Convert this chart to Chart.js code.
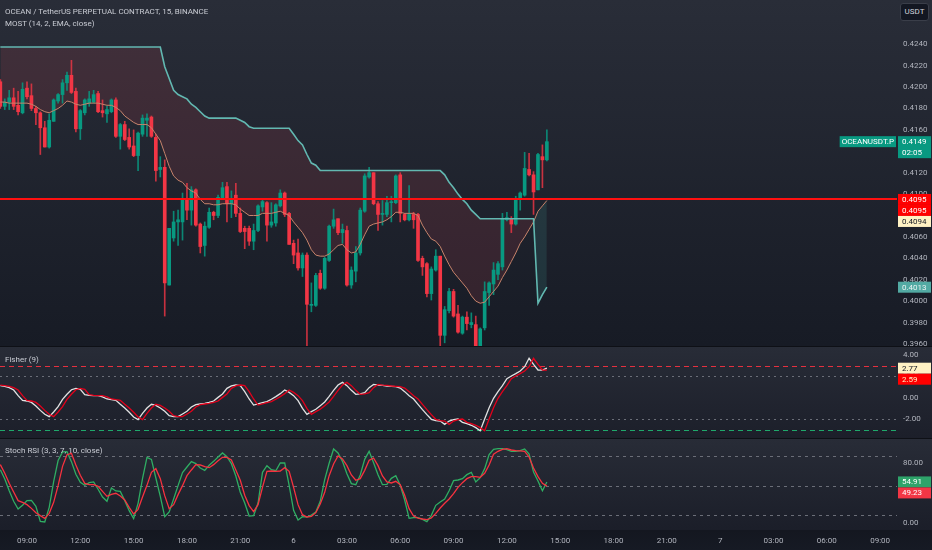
<!DOCTYPE html>
<html>
<head>
<meta charset="utf-8">
<script src="https://cdn.jsdelivr.net/npm/chart.js@4.4.1/dist/chart.umd.min.js"></script>
<style>
  body { margin: 0; width: 932px; height: 550px; overflow: hidden; position: relative; background: #0e1016; font-family: Roboto, sans-serif; }
  .pane { position: absolute; left: 0; width: 932px; }
  .pane canvas { display: block; }
  .ttl { position: absolute; left: 5px; color: #c8cbd3; font-size: 8px; line-height: 10px; white-space: nowrap; }
  #usdt { position: absolute; left: 900px; top: 3px; width: 27px; height: 16px; border: 1px solid #3a3e49; border-radius: 3px;
          background: #131722; color: #d1d4dc; font-size: 8px; line-height: 16px; text-align: center; }
</style>
</head>
<body>
<div class="pane" style="top:0;height:346px;background:linear-gradient(#292d38,#171b25)"><canvas id="cMain" width="932" height="346"></canvas></div>
<div class="pane" style="top:347px;height:91px;background:linear-gradient(#282c37,#1c1f2a)"><canvas id="cFisher" width="932" height="91"></canvas></div>
<div class="pane" style="top:439px;height:111px;background:linear-gradient(#282c37 0,#1b1e29 91px,#141720 91px,#161a24 111px)"><canvas id="cStoch" width="932" height="111"></canvas></div>
<div class="ttl" style="top:7px">OCEAN / TetherUS PERPETUAL CONTRACT, 15, BINANCE</div>
<div class="ttl" style="top:19px">MOST (14, 2, EMA, close)</div>
<div class="ttl" style="top:355px">Fisher (9)</div>
<div class="ttl" style="top:446px">Stoch RSI (3, 3, 7, 10, close)</div>
<div id="usdt">USDT</div>
<script>
// bar 0 = 09:00 on the 5th, one bar per 15 minutes
const FIRST_BAR = -6;
const BARS_PER_LABEL = 12;
const TIME_LABELS = ["09:00", "12:00", "15:00", "18:00", "21:00", "6", "03:00", "06:00", "09:00",
  "12:00", "15:00", "18:00", "21:00", "7", "03:00", "06:00", "09:00"];

const OPEN = [
  0.4205, 0.4182, 0.4186, 0.4190, 0.4183, 0.4176, 0.4199, 0.4192, 0.4180, 0.4176,
  0.4162, 0.4144, 0.4168, 0.4187, 0.4193, 0.4204, 0.4211, 0.4196, 0.4161, 0.4176,
  0.4185, 0.4186, 0.4194, 0.4178, 0.4175, 0.4177, 0.4188, 0.4154, 0.4165, 0.4153,
  0.4145, 0.4136, 0.4156, 0.4169, 0.4172, 0.4153, 0.4123, 0.4125, 0.4015, 0.4059,
  0.4074, 0.4074, 0.4096, 0.4085, 0.4104, 0.4072, 0.4052, 0.4069, 0.4083, 0.4080,
  0.4096, 0.4107, 0.4091, 0.4099, 0.4082, 0.4068, 0.4068, 0.4056, 0.4066, 0.4088,
  0.4092, 0.4071, 0.4073, 0.4089, 0.4101, 0.4082, 0.4054, 0.4045, 0.4031, 0.4043,
  0.3996, 0.3996, 0.4026, 0.4012, 0.4038, 0.4070, 0.4077, 0.4064, 0.4066, 0.4015,
  0.4028, 0.4045, 0.4084, 0.4116, 0.4120, 0.4091, 0.4081, 0.4081, 0.4092, 0.4092,
  0.4118, 0.4081, 0.4076, 0.4081, 0.4081, 0.4040, 0.4035, 0.4007, 0.4029, 0.4042,
  0.3968, 0.3991, 0.4009, 0.3988, 0.3970, 0.3985, 0.3978, 0.3978, 0.3957, 0.3975,
  0.4008, 0.4016, 0.4025, 0.4032, 0.4076, 0.4077, 0.4072, 0.4095, 0.4099, 0.4123,
  0.4118, 0.4104, 0.4135, 0.4132
];
const HIGH = [
  0.4207, 0.4189, 0.4197, 0.4199, 0.4196, 0.4204, 0.4205, 0.4203, 0.4182, 0.4177,
  0.4168, 0.4175, 0.4189, 0.4194, 0.4207, 0.4214, 0.4225, 0.4199, 0.4179, 0.4189,
  0.4196, 0.4197, 0.4196, 0.4188, 0.4182, 0.4189, 0.4190, 0.4166, 0.4168, 0.4161,
  0.4160, 0.4158, 0.4174, 0.4175, 0.4173, 0.4156, 0.4135, 0.4132, 0.4068, 0.4084,
  0.4085, 0.4101, 0.4110, 0.4107, 0.4105, 0.4073, 0.4074, 0.4087, 0.4084, 0.4099,
  0.4111, 0.4111, 0.4103, 0.4110, 0.4087, 0.4070, 0.4070, 0.4072, 0.4090, 0.4095,
  0.4093, 0.4092, 0.4091, 0.4104, 0.4102, 0.4083, 0.4057, 0.4058, 0.4045, 0.4045,
  0.4017, 0.4026, 0.4029, 0.4041, 0.4071, 0.4086, 0.4077, 0.4072, 0.4070, 0.4032,
  0.4051, 0.4087, 0.4119, 0.4125, 0.4120, 0.4093, 0.4094, 0.4098, 0.4098, 0.4118,
  0.4120, 0.4082, 0.4108, 0.4083, 0.4082, 0.4042, 0.4036, 0.4032, 0.4048, 0.4042,
  0.3995, 0.4012, 0.4011, 0.3996, 0.3986, 0.3990, 0.3989, 0.3986, 0.3975, 0.4018,
  0.4018, 0.4036, 0.4037, 0.4082, 0.4083, 0.4079, 0.4098, 0.4102, 0.4139, 0.4138,
  0.4121, 0.4138, 0.4146, 0.4160
];
const LOW = [
  0.4180, 0.4179, 0.4179, 0.4179, 0.4174, 0.4175, 0.4189, 0.4178, 0.4165, 0.4137,
  0.4144, 0.4143, 0.4168, 0.4185, 0.4185, 0.4197, 0.4194, 0.4158, 0.4151, 0.4174,
  0.4182, 0.4185, 0.4176, 0.4172, 0.4167, 0.4176, 0.4153, 0.4142, 0.4150, 0.4142,
  0.4135, 0.4122, 0.4154, 0.4154, 0.4153, 0.4112, 0.4116, 0.3986, 0.4015, 0.4056,
  0.4052, 0.4057, 0.4076, 0.4071, 0.4070, 0.4045, 0.4042, 0.4068, 0.4076, 0.4078,
  0.4095, 0.4074, 0.4078, 0.4079, 0.4064, 0.4049, 0.4052, 0.4048, 0.4065, 0.4084,
  0.4056, 0.4069, 0.4070, 0.4088, 0.4079, 0.4053, 0.4035, 0.4029, 0.4023, 0.3956,
  0.3990, 0.3995, 0.4011, 0.4011, 0.4037, 0.4068, 0.4062, 0.4054, 0.4014, 0.4012,
  0.4018, 0.4043, 0.4083, 0.4115, 0.4090, 0.4066, 0.4071, 0.4079, 0.4074, 0.4091,
  0.4074, 0.4075, 0.4075, 0.4068, 0.4037, 0.4024, 0.4004, 0.4001, 0.4028, 0.3958,
  0.3961, 0.3989, 0.3985, 0.3970, 0.3969, 0.3973, 0.3975, 0.3956, 0.3956, 0.3973,
  0.3996, 0.4006, 0.4020, 0.4029, 0.4075, 0.4064, 0.4071, 0.4085, 0.4098, 0.4117,
  0.4081, 0.4104, 0.4106, 0.4131
];
const CLOSE = [
  0.4182, 0.4186, 0.4190, 0.4182, 0.4177, 0.4198, 0.4191, 0.4180, 0.4176, 0.4162,
  0.4144, 0.4169, 0.4188, 0.4193, 0.4204, 0.4211, 0.4195, 0.4161, 0.4178, 0.4188,
  0.4189, 0.4193, 0.4177, 0.4176, 0.4179, 0.4188, 0.4154, 0.4165, 0.4151, 0.4144,
  0.4136, 0.4157, 0.4171, 0.4171, 0.4154, 0.4122, 0.4125, 0.4017, 0.4068, 0.4074,
  0.4076, 0.4096, 0.4085, 0.4104, 0.4071, 0.4051, 0.4070, 0.4083, 0.4080, 0.4097,
  0.4106, 0.4091, 0.4095, 0.4082, 0.4065, 0.4065, 0.4056, 0.4066, 0.4089, 0.4093,
  0.4071, 0.4074, 0.4090, 0.4101, 0.4081, 0.4053, 0.4043, 0.4031, 0.4043, 0.3997,
  0.3997, 0.4024, 0.4012, 0.4040, 0.4070, 0.4076, 0.4064, 0.4067, 0.4015, 0.4029,
  0.4045, 0.4085, 0.4117, 0.4120, 0.4091, 0.4081, 0.4082, 0.4092, 0.4093, 0.4117,
  0.4082, 0.4076, 0.4081, 0.4076, 0.4038, 0.4032, 0.4007, 0.4030, 0.4042, 0.3968,
  0.3992, 0.4009, 0.3986, 0.3971, 0.3985, 0.3979, 0.3980, 0.3957, 0.3974, 0.4009,
  0.4017, 0.4029, 0.4035, 0.4077, 0.4078, 0.4072, 0.4095, 0.4101, 0.4124, 0.4118,
  0.4102, 0.4137, 0.4132, 0.4149
];

// MOST (14, 2, EMA) trailing line and its EMA
const MOST = [
  0.42375, 0.42375, 0.42375, 0.42375, 0.42375, 0.42375, 0.42375, 0.42375, 0.42375, 0.42375,
  0.42375, 0.42375, 0.42375, 0.42375, 0.42375, 0.42375, 0.42375, 0.42375, 0.42375, 0.42375,
  0.42375, 0.42375, 0.42375, 0.42375, 0.42375, 0.42375, 0.42375, 0.42375, 0.42375, 0.42375,
  0.42375, 0.42375, 0.42375, 0.42375, 0.42375, 0.42375, 0.42375, 0.4219, 0.4208, 0.4197,
  0.4193, 0.4191, 0.4189, 0.4184, 0.4181, 0.4177, 0.4173, 0.4171, 0.4171, 0.4171,
  0.4171, 0.4171, 0.4171, 0.4171, 0.4169, 0.4167, 0.4163, 0.41615, 0.41615, 0.41615,
  0.41615, 0.41615, 0.41615, 0.41615, 0.41615, 0.41615, 0.4156, 0.4150, 0.4146, 0.4137,
  0.4129, 0.4127, 0.4122, 0.4122, 0.4122, 0.4122, 0.4122, 0.4122, 0.4122, 0.4122,
  0.4122, 0.4122, 0.4122, 0.4122, 0.4122, 0.4122, 0.4122, 0.4122, 0.4122, 0.4122,
  0.4122, 0.4122, 0.4122, 0.4122, 0.4122, 0.4122, 0.4122, 0.4122, 0.4122, 0.4122,
  0.4118, 0.4111, 0.4106, 0.4100, 0.4095, 0.4091, 0.4085, 0.4081, 0.4077, 0.4077,
  0.4077, 0.4077, 0.4077, 0.4077, 0.4077, 0.4077, 0.4077, 0.4077, 0.4077, 0.4077,
  0.4077, 0.3998, 0.4006, 0.4013
];
const EMA = [
  0.4186, 0.4186, 0.4185, 0.4185, 0.4185, 0.4185, 0.4185, 0.4184, 0.4182, 0.4179,
  0.4177, 0.4176, 0.4178, 0.4180, 0.4183, 0.4187, 0.4186, 0.4184, 0.4183, 0.4184,
  0.4185, 0.4185, 0.4185, 0.4184, 0.4183, 0.4183, 0.4181, 0.4178, 0.4173, 0.4170,
  0.4167, 0.4165, 0.4165, 0.4165, 0.4162, 0.4156, 0.4150, 0.4138, 0.4126, 0.4117,
  0.4113, 0.4111, 0.4106, 0.4103, 0.4101, 0.4095, 0.4091, 0.4091, 0.4090, 0.4090,
  0.4091, 0.4091, 0.4091, 0.4090, 0.4086, 0.4083, 0.4080, 0.4080, 0.4080, 0.4082,
  0.4082, 0.4082, 0.4083, 0.4084, 0.4082, 0.4080, 0.4074, 0.4069, 0.4064, 0.4057,
  0.4048, 0.4043, 0.4042, 0.4042, 0.4044, 0.4048, 0.4052, 0.4053, 0.4048, 0.4045,
  0.4046, 0.4053, 0.4062, 0.4070, 0.4072, 0.4073, 0.4074, 0.4076, 0.4079, 0.4083,
  0.4083, 0.4082, 0.4082, 0.4082, 0.4080, 0.4071, 0.4064, 0.4058, 0.4056, 0.4051,
  0.4042, 0.4034, 0.4027, 0.4022, 0.4017, 0.4012, 0.4005, 0.4000, 0.3998, 0.3999,
  0.4004, 0.4009, 0.4014, 0.4022, 0.4029, 0.4037, 0.4045, 0.4054, 0.4060, 0.4067,
  0.4074, 0.4084, 0.4089, 0.4094
];

const FISHER = [
  1.13, 1.07, 0.94, 0.72, 0.19, -0.25, -0.31, -0.44, -0.78, -1.19,
  -1.56, -1.78, -1.34, -0.84, -0.15, 0.32, 0.75, 0.88, 0.78, 0.29,
  0.22, 0.19, 0.19, 0.07, -0.12, -0.19, -0.25, -0.62, -0.97, -1.37,
  -1.81, -2.06, -1.47, -0.97, -0.62, -0.72, -0.97, -1.28, -1.69, -1.78,
  -1.78, -1.53, -1.28, -0.87, -0.65, -0.59, -0.53, -0.44, -0.31, 0.03,
  0.35, 0.88, 1.10, 1.19, 1.13, 0.57, -0.12, -0.69, -0.59, -0.47,
  -0.37, -0.15, 0.10, 0.38, 0.72, 0.50, 0.19, -0.28, -1.00, -1.56,
  -1.31, -1.09, -0.75, -0.40, 0.13, 0.69, 1.19, 1.44, 1.13, 0.69,
  0.32, 0.35, 0.47, 0.94, 1.25, 1.19, 1.16, 1.10, 1.07, 1.04,
  0.91, 0.57, 0.19, -0.12, -0.62, -1.12, -1.59, -2.03, -2.16, -2.19,
  -2.50, -2.19, -2.06, -2.00, -2.31, -2.44, -2.59, -2.81, -3.10, -2.00,
  -0.94, -0.06, 0.57, 1.13, 1.79, 2.04, 2.26, 2.51, 2.91, 3.70,
  3.13, 2.60, 2.59, 2.77
];
const TRIGGER = [
  1.19, 1.13, 1.07, 0.94, 0.72, 0.19, -0.25, -0.31, -0.44, -0.78,
  -1.19, -1.56, -1.78, -1.34, -0.84, -0.15, 0.32, 0.75, 0.88, 0.78,
  0.29, 0.22, 0.19, 0.19, 0.07, -0.12, -0.19, -0.25, -0.62, -0.97,
  -1.37, -1.81, -2.06, -1.47, -0.97, -0.62, -0.72, -0.97, -1.28, -1.69,
  -1.78, -1.78, -1.53, -1.28, -0.87, -0.65, -0.59, -0.53, -0.44, -0.31,
  0.03, 0.35, 0.88, 1.10, 1.19, 1.13, 0.57, -0.12, -0.69, -0.59,
  -0.47, -0.37, -0.15, 0.10, 0.38, 0.72, 0.50, 0.19, -0.28, -1.00,
  -1.56, -1.31, -1.09, -0.75, -0.40, 0.13, 0.69, 1.19, 1.44, 1.13,
  0.69, 0.32, 0.35, 0.47, 0.94, 1.25, 1.19, 1.16, 1.10, 1.07,
  1.04, 0.91, 0.57, 0.19, -0.12, -0.62, -1.12, -1.59, -2.03, -2.16,
  -2.19, -2.50, -2.19, -2.06, -2.00, -2.31, -2.44, -2.59, -2.81, -3.10,
  -2.00, -0.94, -0.06, 0.57, 1.13, 1.79, 2.04, 2.26, 2.51, 2.91,
  3.70, 3.13, 2.60, 2.59
];

const STOCH_K = [
  71.4, 58.9, 43.1, 28.8, 18.5, 23.4, 29.7, 30.1, 22.0, 1.8,
  1.0, 20.7, 55.3, 83.7, 95.4, 95.7, 82.2, 65.3, 54.4, 50.3,
  53.9, 55.0, 45.0, 34.6, 28.8, 46.7, 42.7, 42.2, 29.7, 16.2,
  5.4, 26.1, 59.3, 88.0, 85.3, 60.2, 35.5, 8.1, 14.4, 31.9,
  49.9, 67.4, 75.0, 82.2, 79.5, 73.7, 70.5, 77.3, 82.6, 88.5,
  93.9, 88.9, 79.5, 62.9, 40.9, 26.5, 9.0, 9.5, 26.5, 67.8,
  76.8, 71.4, 70.0, 80.4, 80.4, 50.3, 16.7, 3.6, 8.1, 7.7,
  10.4, 14.4, 28.8, 58.0, 80.0, 99.3, 93.9, 82.6, 66.0, 52.6,
  51.2, 64.2, 85.3, 96.1, 80.8, 64.7, 51.2, 51.7, 59.7, 63.3,
  50.3, 30.6, 5.9, 6.8, 6.8, 4.5, 1.4, 9.9, 23.4, 27.9,
  31.9, 43.1, 56.6, 57.5, 59.3, 64.7, 67.8, 54.8, 60.6, 72.8,
  91.6, 98.8, 99.7, 99.7, 98.4, 96.1, 96.1, 97.0, 99.3, 92.5,
  68.3, 56.2, 43.1, 54.91
];
const STOCH_D = [
  78.2, 66.5, 53.0, 41.3, 29.7, 27.4, 24.3, 19.3, 13.5, 9.5,
  5.9, 12.6, 27.4, 49.9, 75.9, 91.6, 93.4, 77.7, 63.8, 53.0,
  51.2, 51.2, 49.0, 42.2, 35.5, 38.2, 39.6, 36.0, 30.6, 20.7,
  11.7, 18.0, 34.6, 50.3, 67.8, 72.8, 59.3, 36.4, 18.9, 24.3,
  37.8, 49.9, 63.3, 71.0, 78.2, 77.7, 75.5, 74.1, 78.2, 83.5,
  88.0, 88.0, 84.4, 71.0, 57.1, 36.9, 23.0, 14.9, 24.3, 47.6,
  69.2, 69.6, 69.2, 69.6, 74.1, 69.2, 47.6, 24.3, 10.8, 7.7,
  8.6, 13.5, 25.2, 40.9, 63.3, 79.1, 89.8, 85.8, 76.8, 64.2,
  57.1, 59.3, 70.5, 84.0, 87.1, 76.8, 62.9, 54.8, 53.5, 55.7,
  51.2, 36.9, 18.9, 9.0, 6.3, 5.0, 4.1, 6.3, 12.6, 19.8,
  26.1, 31.9, 39.1, 47.6, 53.9, 59.3, 62.0, 62.0, 61.1, 66.5,
  77.7, 92.1, 96.1, 98.8, 99.7, 97.9, 97.0, 96.6, 96.1, 88.5,
  73.7, 62.0, 53.0, 49.23
];

const PRICE_TICKS = [0.3960, 0.3980, 0.4000, 0.4020, 0.4040, 0.4060, 0.4080, 0.4100,
  0.4120, 0.4140, 0.4160, 0.4180, 0.4200, 0.4220, 0.4240];
const FISHER_TICKS = [-2, 0, 2, 4];
const STOCH_TICKS = [0, 40, 80];
const RED_LEVEL = 0.4095;
const FISHER_UPPER = [3, 2];
const FISHER_LOWER = [-2, -3];
const STOCH_LEVELS = [90, 50, 10];

// layout
const X_MIN = -6.075, X_MAX = 195.8;
const AXIS_W = 35;
const AXIS_TEXT = "#b2b5be";
const AXIS_FONT = { family: "Roboto", size: 8 };
const UP = "#089981", DOWN = "#f23645";

const pts = arr => arr.map((v, k) => ({ x: FIRST_BAR + k, y: v }));
const isUp = k => CLOSE[k] >= OPEN[k];

function xAxis(show) {
  return {
    type: "linear", min: X_MIN, max: X_MAX, offset: false, display: show,
    grid: { display: false, drawTicks: false }, border: { display: false },
    afterBuildTicks: s => { s.ticks = TIME_LABELS.map((_, k) => ({ value: k * BARS_PER_LABEL })); },
    afterFit: s => { s.height = show ? 20 : 0; s.paddingLeft = 0; s.paddingRight = 0; },
    ticks: {
      autoSkip: false, maxRotation: 0, padding: 6, color: AXIS_TEXT, font: AXIS_FONT,
      callback: v => TIME_LABELS[Math.round(v / BARS_PER_LABEL)]
    }
  };
}

function yAxis(min, max, ticks, digits) {
  return {
    position: "right", min: min, max: max,
    grid: { display: false, drawTicks: false }, border: { display: false },
    afterBuildTicks: s => { s.ticks = ticks.map(v => ({ value: v })); },
    afterFit: s => { s.width = AXIS_W; s.paddingTop = 0; s.paddingBottom = 0; },
    ticks: { autoSkip: false, padding: 6, color: AXIS_TEXT, font: AXIS_FONT, callback: v => v.toFixed(digits) }
  };
}

function drawLevels(chart, lines) {
  const { ctx, chartArea: a } = chart;
  const y = chart.scales.y;
  ctx.save();
  lines.forEach(l => {
    const w = l.width || 1;
    const py = Math.round(y.getPixelForValue(l.value)) + (w % 2 ? 0.5 : 0);
    ctx.beginPath();
    ctx.setLineDash(l.dash || []);
    ctx.lineWidth = w;
    ctx.strokeStyle = l.color;
    ctx.moveTo(a.left, py);
    ctx.lineTo(a.right, py);
    ctx.stroke();
  });
  ctx.restore();
}

const levelLines = {
  id: "levelLines",
  beforeDatasetsDraw(chart, args, opts) { drawLevels(chart, opts.below || []); },
  afterDatasetsDraw(chart, args, opts) { drawLevels(chart, opts.above || []); }
};

// value labels on the price scale, stacked so they never overlap
const badges = {
  id: "badges",
  afterDraw(chart, args, opts) {
    const { ctx, chartArea: a } = chart;
    const y = chart.scales.y;
    const H = 11;
    const items = (opts.items || []).map(b => Object.assign({}, b, { cy: y.getPixelForValue(b.value) }))
      .sort((p, q) => p.cy - q.cy);
    let prev = -Infinity;
    ctx.save();
    ctx.font = "8px Roboto";
    ctx.textBaseline = "middle";
    items.forEach(b => {
      const h = b.sub ? 2 * H : H;
      const top = Math.max(b.cy - H / 2, prev);
      ctx.fillStyle = b.bg;
      ctx.fillRect(a.right + 1, top, 33, h);
      ctx.fillStyle = b.fg;
      ctx.fillText(b.text, a.right + 5, top + H / 2 + 0.5);
      if (b.sub) ctx.fillText(b.sub, a.right + 5, top + H * 1.5);
      if (b.tag) {
        const w = ctx.measureText(b.tag).width + 4;
        ctx.fillStyle = b.bg;
        ctx.fillRect(a.right - w - 1, top, w, H);
        ctx.fillStyle = b.fg;
        ctx.fillText(b.tag, a.right - w + 1, top + H / 2 + 0.5);
      }
      prev = top + h;
    });
    ctx.restore();
  }
};

const common = {
  responsive: false, animation: false, events: [],
  layout: { padding: 0 }
};
const basePlugins = { legend: { display: false }, tooltip: { enabled: false } };

new Chart(document.getElementById("cMain"), {
  type: "bar",
  data: {
    datasets: [
      {
        type: "line", label: "MOST", data: pts(MOST), order: 0,
        borderColor: "#62b8b1", borderWidth: 1.6, pointRadius: 0, tension: 0,
        fill: { target: 1, above: "rgba(196, 66, 80, 0.16)", below: "rgba(70, 170, 160, 0.16)" }
      },
      {
        type: "line", label: "EMA", data: pts(EMA), order: 1,
        borderColor: "#c8836b", borderWidth: 1, pointRadius: 0, tension: 0, fill: false
      },
      {
        label: "body", order: 2, grouped: false, barThickness: 3, minBarLength: 1, borderWidth: 0,
        data: OPEN.map((o, k) => ({ x: FIRST_BAR + k, y: [o, CLOSE[k]] })),
        backgroundColor: c => isUp(c.dataIndex) ? UP : DOWN
      },
      {
        label: "wick", order: 3, grouped: false, barThickness: 1, borderWidth: 0,
        data: LOW.map((l, k) => ({ x: FIRST_BAR + k, y: [l, HIGH[k]] })),
        backgroundColor: c => isUp(c.dataIndex) ? "rgba(8,153,129,0.85)" : "rgba(242,54,69,0.8)"
      }
    ]
  },
  options: Object.assign({}, common, {
    scales: { x: xAxis(false), y: yAxis(0.395804, 0.428140, PRICE_TICKS, 4) },
    plugins: Object.assign({}, basePlugins, {
      filler: { drawTime: "beforeDatasetsDraw" },
      levelLines: { above: [{ value: RED_LEVEL, color: "#ff1010", width: 2 }] },
      badges: {
        items: [
          { value: CLOSE[CLOSE.length - 1], text: CLOSE[CLOSE.length - 1].toFixed(4), sub: "02:05", tag: "OCEANUSDT.P", bg: "#089981", fg: "#ffffff" },
          { value: RED_LEVEL, text: RED_LEVEL.toFixed(4), bg: "#ff0000", fg: "#ffffff" },
          { value: RED_LEVEL, text: RED_LEVEL.toFixed(4), bg: "#ff0000", fg: "#ffffff" },
          { value: EMA[EMA.length - 1], text: EMA[EMA.length - 1].toFixed(4), bg: "#fff2c4", fg: "#131722" },
          { value: MOST[MOST.length - 1], text: MOST[MOST.length - 1].toFixed(4), bg: "#52aaa3", fg: "#eaf4f3" }
        ]
      }
    })
  }),
  plugins: [levelLines, badges]
});

new Chart(document.getElementById("cFisher"), {
  type: "line",
  data: {
    datasets: [
      { label: "Trigger", data: pts(TRIGGER), order: 0, borderColor: "#e3001b", borderWidth: 1.3, pointRadius: 0, tension: 0 },
      { label: "Fisher", data: pts(FISHER), order: 1, borderColor: "#e2e2e2", borderWidth: 1.3, pointRadius: 0, tension: 0 }
    ]
  },
  options: Object.assign({}, common, {
    scales: { x: xAxis(false), y: yAxis(-3.784, 4.761, FISHER_TICKS, 2) },
    plugins: Object.assign({}, basePlugins, {
      levelLines: {
        below: [
          { value: FISHER_UPPER[0], color: "#e5303f", dash: [5, 4], width: 1 },
          { value: FISHER_UPPER[1], color: "#6b6e78", dash: [2, 4] },
          { value: FISHER_LOWER[0], color: "#6b6e78", dash: [2, 4] },
          { value: FISHER_LOWER[1], color: "#1fa86b", dash: [5, 4] }
        ]
      },
      badges: {
        items: [
          { value: FISHER[FISHER.length - 1], text: FISHER[FISHER.length - 1].toFixed(2), bg: "#fff2c4", fg: "#131722" },
          { value: TRIGGER[TRIGGER.length - 1], text: TRIGGER[TRIGGER.length - 1].toFixed(2), bg: "#ff0000", fg: "#fff2c4" }
        ]
      }
    })
  }),
  plugins: [levelLines, badges]
});

new Chart(document.getElementById("cStoch"), {
  type: "line",
  data: {
    datasets: [
      { label: "D", data: pts(STOCH_D), order: 0, borderColor: "#f7323f", borderWidth: 1.3, pointRadius: 0, tension: 0 },
      { label: "K", data: pts(STOCH_K), order: 1, borderColor: "#2fae63", borderWidth: 1.3, pointRadius: 0, tension: 0 }
    ]
  },
  options: Object.assign({}, common, {
    scales: { x: xAxis(true), y: yAxis(-9.83, 112.7, STOCH_TICKS, 2) },
    plugins: Object.assign({}, basePlugins, {
      levelLines: { below: STOCH_LEVELS.map(v => ({ value: v, color: "#6b6e78", dash: [3, 4] })) },
      badges: {
        items: [
          { value: STOCH_K[STOCH_K.length - 1], text: STOCH_K[STOCH_K.length - 1].toFixed(2), bg: "#2ea36a", fg: "#ffffff" },
          { value: STOCH_D[STOCH_D.length - 1], text: STOCH_D[STOCH_D.length - 1].toFixed(2), bg: "#f23645", fg: "#ffffff" }
        ]
      }
    })
  }),
  plugins: [levelLines, badges]
});
</script>
</body>
</html>
